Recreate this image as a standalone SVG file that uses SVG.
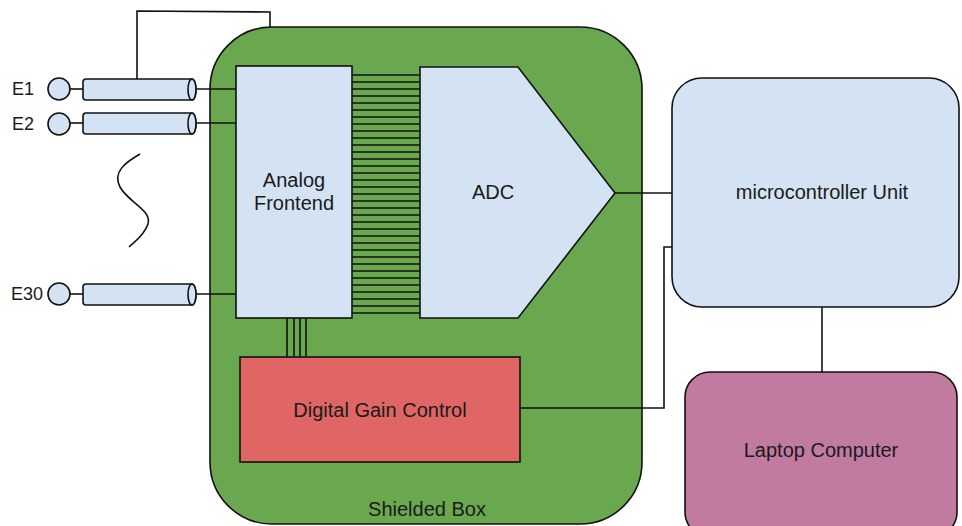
<svg xmlns="http://www.w3.org/2000/svg" width="962" height="526" viewBox="0 0 962 526">
<style>
.ln{stroke:#111;stroke-width:1.6;fill:none}
.bx{stroke:#111;stroke-width:1.6}
.t{font-family:"Liberation Sans",Arial,sans-serif;font-size:20px;fill:#1a1a1a}
.e{font-size:18px}
.m{text-anchor:middle}
.blue{fill:#d3e3f3}
</style>
<defs>
<g id="tube">
<path class="bx blue" d="M86,0 H192 A4,10.5 0 0 1 192,21 H86 A3,3 0 0 1 83,18 V3 A3,3 0 0 1 86,0 Z"/>
<ellipse class="bx blue" cx="192" cy="10.5" rx="4" ry="10.5"/>
</g>
</defs>
<rect width="962" height="526" fill="#fff"/>
<g id="shielded-box">
<rect class="bx" x="210" y="27" width="432" height="497" rx="62" fill="#6aa84f"/>
<text class="t m" x="427" y="516">Shielded Box</text>
</g>
<g id="connectors">
<polyline class="ln" points="137,79 137,11 270,12 270,27"/>
<line class="ln" x1="70" y1="89" x2="83" y2="89"/>
<line class="ln" x1="196" y1="89" x2="236" y2="89"/>
<line class="ln" x1="70" y1="123" x2="83" y2="123"/>
<line class="ln" x1="196" y1="123" x2="236" y2="123"/>
<line class="ln" x1="70" y1="294" x2="83" y2="294"/>
<line class="ln" x1="196" y1="294" x2="236" y2="294"/>
<path class="ln" d="M352,75 H420 M352,82 H420 M352,89 H420 M352,96 H420 M352,103 H420 M352,110 H420 M352,117 H420 M352,124 H420 M352,131 H420 M352,138 H420 M352,145 H420 M352,152 H420 M352,159 H420 M352,166 H420 M352,173 H420 M352,180 H420 M352,187 H420 M352,194 H420 M352,201 H420 M352,208 H420 M352,215 H420 M352,222 H420 M352,229 H420 M352,236 H420 M352,243 H420 M352,250 H420 M352,257 H420 M352,264 H420 M352,271 H420 M352,278 H420 M352,285 H420 M352,292 H420 M352,299 H420 M352,306 H420 M352,313 H420"/>
<path class="ln" d="M287,318 V357 M294,318 V357 M300,318 V357 M306,318 V357"/>
<line class="ln" x1="615" y1="193" x2="672" y2="193"/>
<polyline class="ln" points="520,408 664,408 664,247 672,247"/>
<line class="ln" x1="822" y1="307" x2="822" y2="372"/>
<path class="ln" d="M140,154 C126,162 112,172 120,187 C128,202 152,210 148,224 C144,236 134,242 129,247" stroke-width="2"/>
</g>
<g id="e1">
<circle class="bx blue" cx="59" cy="89" r="11"/>
<use href="#tube" y="79"/>
<text class="t e" x="12" y="95">E1</text>
</g>
<g id="e2">
<circle class="bx blue" cx="59" cy="124" r="11"/>
<use href="#tube" y="113"/>
<text class="t e" x="12" y="130">E2</text>
</g>
<g id="e30">
<circle class="bx blue" cx="59" cy="294" r="11"/>
<use href="#tube" y="284"/>
<text class="t e" x="11" y="300">E30</text>
</g>
<g id="analog-frontend">
<rect class="bx blue" x="236" y="66" width="116" height="252"/>
<text class="t m" x="294" y="187">Analog</text>
<text class="t m" x="294" y="210">Frontend</text>
</g>
<g id="adc">
<polygon class="bx blue" points="420,67 518,67 615,193 518,318 420,318"/>
<text class="t m" x="493" y="199">ADC</text>
</g>
<g id="digital-gain-control">
<rect class="bx" x="240" y="357" width="280" height="105" fill="#e06666"/>
<text class="t m" x="380" y="417">Digital Gain Control</text>
</g>
<g id="microcontroller-unit">
<rect class="bx blue" x="672" y="78" width="287" height="229" rx="30"/>
<text class="t m" x="822" y="199">microcontroller Unit</text>
</g>
<g id="laptop-computer">
<rect class="bx" x="685" y="372" width="272" height="165" rx="25" fill="#c27ba0"/>
<text class="t m" x="821" y="457">Laptop Computer</text>
</g>
</svg>
